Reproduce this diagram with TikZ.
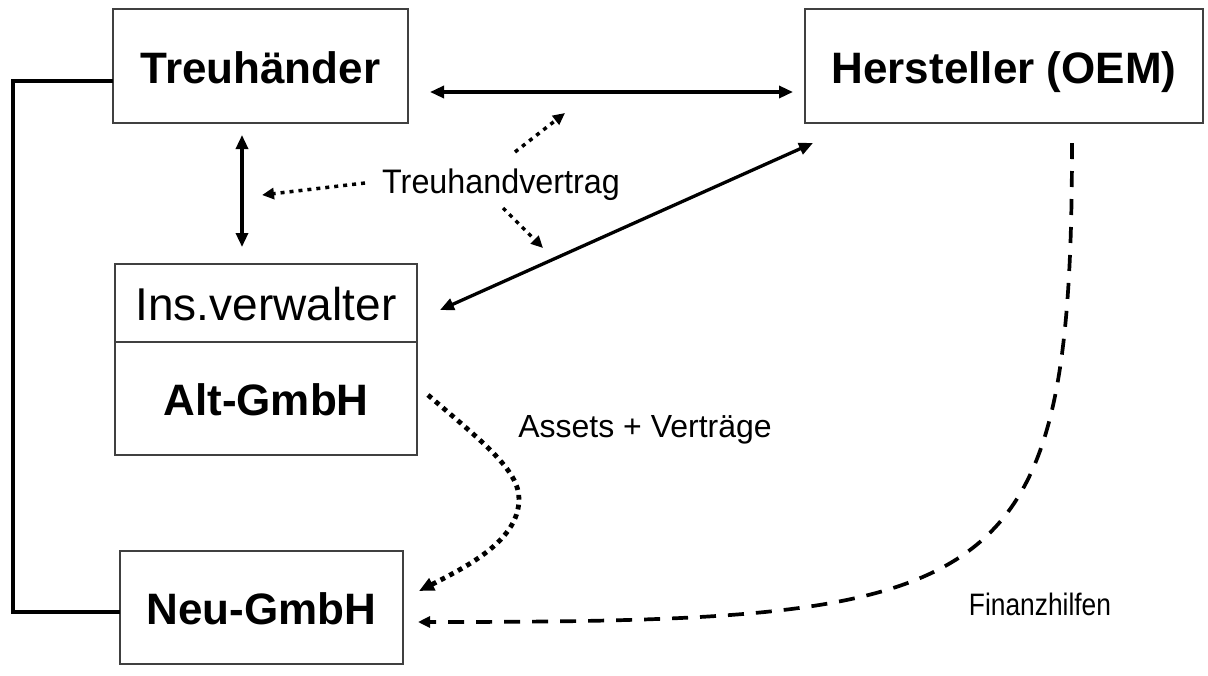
\documentclass[tikz,border=0pt]{standalone}
\usepackage{fontspec}
\setmainfont{Liberation Sans}
\usetikzlibrary{arrows.meta}
\begin{document}
\begin{tikzpicture}[x=1pt,y=-1pt,
  box/.style={draw=black!75,line width=1.2pt,inner sep=0pt,anchor=center,text height=34pt,text depth=0pt},
  bigbold/.style={font=\fontsize{44}{50}\selectfont\bfseries},
  bigreg/.style={font=\fontsize{46}{52}\selectfont},
  lbl/.style={anchor=base,inner sep=0pt},
  solidarrow/.style={line width=3.3pt,{Triangle[length=14pt,width=12pt]}-{Triangle[length=14pt,width=12pt]}},
  dotarrow/.style={line width=3.5pt,dash pattern=on 4pt off 5pt,-{Triangle[length=12pt,width=11pt]}},
  bigdot/.style={line width=4.8pt,dash pattern=on 4.8pt off 5pt,-{Triangle[length=15pt,width=13pt]}},
  dasharrow/.style={line width=3.7pt,dash pattern=on 16pt off 12pt,-{Triangle[length=12pt,width=11pt]}},
  bracket/.style={line width=3.7pt}]
\useasboundingbox (0,0) rectangle (1208,675);

\node[box,bigbold,minimum width=295pt,minimum height=114pt] (T) at (260.5,66) {Treuh\"ander};
\node[box,bigbold,minimum width=398pt,minimum height=114pt] (H) at (1004,66) {Hersteller (OEM)};
\node[box,bigreg,minimum width=302pt,minimum height=78pt] (I) at (266,303) {Ins.verwalter};
\node[box,bigbold,minimum width=302pt,minimum height=113pt] (A) at (266,398.5) {Alt-GmbH};
\node[box,bigbold,minimum width=283pt,minimum height=113pt] (N) at (261.5,607.5) {Neu-GmbH};

\node[lbl,font=\fontsize{34}{40}\selectfont,xscale=0.95] (TV) at (501,193) {Treuhandvertrag};
\node[lbl,font=\fontsize{32}{38}\selectfont] (AV) at (645,437) {Assets + Vertr\"age};
\node[lbl,font=\fontsize{31}{36}\selectfont,xscale=0.85] (FH) at (1040,615) {Finanzhilfen};

% coordinates for connector ends
\coordinate (th1) at (430,92);
\coordinate (hh1) at (793,92);
\coordinate (tv1) at (242,135);
\coordinate (iv1) at (242,247);
\coordinate (id1) at (440,310);
\coordinate (hd1) at (813,143);
\coordinate (bT) at (113,81);
\coordinate (bN) at (120,612);
\coordinate (bc1) at (13,81);
\coordinate (bc2) at (13,612);
\coordinate (dl0) at (365,183);
\coordinate (dl1) at (262,195);
\coordinate (du0) at (515,152);
\coordinate (du1) at (565,113);
\coordinate (dd0) at (503,208);
\coordinate (dd1) at (543,248);
\coordinate (an0) at (428,395);
\coordinate (anm) at (519,500);
\coordinate (an1) at (419,591);
\coordinate (fh0) at (1072,143);
\coordinate (fh1) at (418,622);

% left bracket Treuhaender -- Neu-GmbH
\draw[bracket] (bT) -- (bc1) -- (bc2) -- (bN);

% solid double arrows
\draw[solidarrow] (th1) -- (hh1);
\draw[solidarrow] (tv1) -- (iv1);
\draw[solidarrow] (id1) -- (hd1);

% Treuhandvertrag dotted arrows
\draw[dotarrow] (dl0) -- (dl1);
\draw[dotarrow] (du0) -- (du1);
\draw[dotarrow] (dd0) -- (dd1);

% Alt -> Neu
\draw[bigdot] (an0) .. controls (480,440) and (520,470) .. (anm) .. controls (518,540) and (470,565) .. (an1);

% Finanzhilfen
\draw[dasharrow] (fh0) .. controls (1072,600) and (1000,622) .. (fh1);
\end{tikzpicture}
\end{document}
